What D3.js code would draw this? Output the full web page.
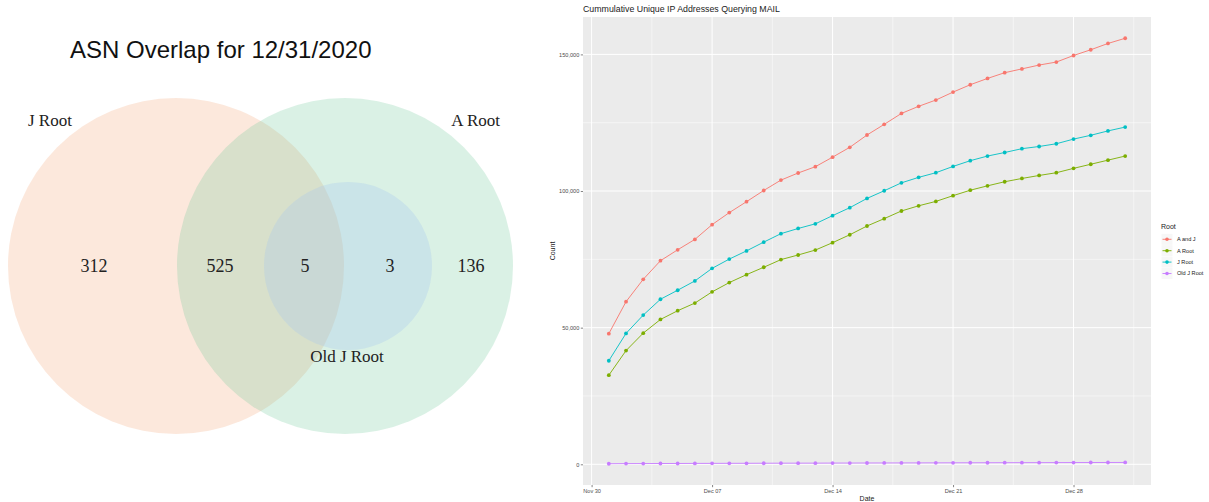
<!DOCTYPE html>
<html>
<head>
<meta charset="utf-8">
<script src="https://cdn.jsdelivr.net/npm/d3@7"></script>
<style>
  html, body { margin: 0; padding: 0; background: #ffffff; }
  svg { display: block; }
</style>
</head>
<body>
<svg id="chart" width="1209" height="502"></svg>
<script>
// ---- ASN overlap (Venn) ----
const vennTitle = "ASN Overlap for 12/31/2020";
const vennSetNames = ["J Root", "A Root", "Old J Root"];
const vennRegionNames = ["J only", "J and A", "J, A and Old J", "A and Old J", "A only"];
const vennCounts = [312, 525, 5, 3, 136];

// ---- Cumulative unique IP addresses querying MAIL ----
const dates = [
  "2020-12-01", "2020-12-02", "2020-12-03", "2020-12-04", "2020-12-05", "2020-12-06", "2020-12-07",
  "2020-12-08", "2020-12-09", "2020-12-10", "2020-12-11", "2020-12-12", "2020-12-13", "2020-12-14",
  "2020-12-15", "2020-12-16", "2020-12-17", "2020-12-18", "2020-12-19", "2020-12-20", "2020-12-21",
  "2020-12-22", "2020-12-23", "2020-12-24", "2020-12-25", "2020-12-26", "2020-12-27", "2020-12-28",
  "2020-12-29", "2020-12-30", "2020-12-31"
];
const rootNames = ["A and J", "A Root", "J Root", "Old J Root"];
const aAndJ = [47800, 59500, 67700, 74500, 78500, 82300, 87700, 92100, 96100, 100200, 104000,
  106600, 108900, 112400, 116000, 120500, 124400, 128400, 131000, 133300, 136200, 138900,
  141200, 143300, 144700, 146100, 147200, 149600, 151700, 154000, 155900];
const aRoot = [32600, 41600, 48000, 53000, 56200, 59000, 63100, 66500, 69400, 72100, 74900,
  76600, 78400, 81100, 84000, 87200, 89900, 92700, 94600, 96200, 98300, 100300,
  101900, 103400, 104600, 105700, 106700, 108300, 109800, 111300, 112800];
const jRoot = [37900, 47900, 54600, 60400, 63700, 67100, 71700, 75100, 78100, 81300, 84400,
  86300, 88000, 91000, 93900, 97300, 100100, 103000, 105000, 106700, 109000, 111100,
  112800, 114100, 115500, 116300, 117300, 119000, 120400, 122000, 123400];
const oldJRoot = [210, 250, 270, 290, 300, 330, 340, 360, 370, 390, 410, 420, 430, 450, 460,
  480, 490, 510, 520, 530, 550, 560, 570, 590, 600, 610, 620, 640, 650, 660, 680];
const rootColors = ["#F8766D", "#7CAE00", "#00BFC4", "#C77CFF"];
const yTickValues = [0, 50000, 100000, 150000];
const xTickDates = ["2020-11-30", "2020-12-07", "2020-12-14", "2020-12-21", "2020-12-28"];
const xTickLabels = ["Nov 30", "Dec 07", "Dec 14", "Dec 21", "Dec 28"];

const svg = d3.select("#chart");
svg.append("rect").attr("width", 1209).attr("height", 502).attr("fill", "#ffffff");

// ================= Venn diagram =================
const venn = svg.append("g").attr("class", "venn");
const serif = "'Liberation Serif', 'Times New Roman', serif";

// set circles: J Root, A Root, Old J Root (nested in A Root)
const vennCircles = [
  { name: vennSetNames[0], cx: 176, cy: 266, r: 168, fill: "#F3A373", op: 0.25 },
  { name: vennSetNames[1], cx: 345, cy: 266, r: 168, fill: "#6BC797", op: 0.25 },
  { name: vennSetNames[2], cx: 348, cy: 266, r: 84, fill: "#A4C6F0", op: 0.3 }
];
venn.selectAll("circle.set").data(vennCircles).join("circle")
  .attr("class", "set")
  .attr("cx", d => d.cx).attr("cy", d => d.cy).attr("r", d => d.r)
  .attr("fill", d => d.fill).attr("fill-opacity", d => d.op);

venn.append("text")
  .attr("x", 70).attr("y", 58)
  .attr("font-family", "'Liberation Sans', Arial, sans-serif")
  .attr("font-size", 24).attr("fill", "#111")
  .text(vennTitle);

const setLabelPos = [
  { x: 28, y: 126, anchor: "start" },
  { x: 500, y: 126, anchor: "end" },
  { x: 347, y: 362, anchor: "middle" }
];
venn.selectAll("text.setlabel").data(vennSetNames).join("text")
  .attr("class", "setlabel")
  .attr("x", (d, i) => setLabelPos[i].x).attr("y", (d, i) => setLabelPos[i].y)
  .attr("text-anchor", (d, i) => setLabelPos[i].anchor)
  .attr("font-family", serif).attr("font-size", 17).attr("fill", "#222")
  .text(d => d);

// label anchor for each Venn region
const regionCenterX = { "J only": 94, "J and A": 220, "J, A and Old J": 305, "A and Old J": 390, "A only": 471 };
venn.selectAll("text.count").data(vennCounts).join("text")
  .attr("class", "count")
  .attr("x", (d, i) => regionCenterX[vennRegionNames[i]]).attr("y", 272)
  .attr("text-anchor", "middle")
  .attr("font-family", serif).attr("font-size", 18).attr("fill", "#222")
  .text(d => d);

// ================= Line chart =================
const sans = "'Liberation Sans', Arial, Helvetica, sans-serif";
const parse = d3.timeParse("%Y-%m-%d");
const days = dates.map(parse);
const seriesValues = [aAndJ, aRoot, jRoot, oldJRoot];
const series = rootNames.map((name, k) => ({
  name, color: rootColors[k],
  points: days.map((d, i) => ({ date: d, value: seriesValues[k][i] }))
}));

const panel = { left: 583, right: 1151, top: 17, bottom: 485 };

// ggplot-style 5% expansion on both axes
const xExt = d3.extent(days);
const xPad = (xExt[1] - xExt[0]) * 0.05;
const x = d3.scaleTime()
  .domain([new Date(+xExt[0] - xPad), new Date(+xExt[1] + xPad)])
  .range([panel.left, panel.right]);
const allVals = seriesValues.flat();
const yMin = d3.min(allVals), yMax = d3.max(allVals);
const yPad = (yMax - yMin) * 0.05;
const y = d3.scaleLinear().domain([yMin - yPad, yMax + yPad]).range([panel.bottom, panel.top]);

const plot = svg.append("g").attr("class", "plot");
plot.append("rect")
  .attr("x", panel.left).attr("y", panel.top)
  .attr("width", panel.right - panel.left).attr("height", panel.bottom - panel.top)
  .attr("fill", "#EBEBEB");

// grid
const xMajor = xTickDates.map(parse);
const xMinor = xMajor.map(d => d3.timeHour.offset(d, 84)).filter(d => d >= x.domain()[0] && d <= x.domain()[1]);
const yMinor = [25000, 75000, 125000];
const grid = plot.append("g");
grid.selectAll("line.ymin").data(yMinor).join("line")
  .attr("x1", panel.left).attr("x2", panel.right)
  .attr("y1", d => y(d)).attr("y2", d => y(d))
  .attr("stroke", "#fff").attr("stroke-width", 0.5);
grid.selectAll("line.xmin").data(xMinor).join("line")
  .attr("y1", panel.top).attr("y2", panel.bottom)
  .attr("x1", d => x(d)).attr("x2", d => x(d))
  .attr("stroke", "#fff").attr("stroke-width", 0.5);
grid.selectAll("line.ymaj").data(yTickValues).join("line")
  .attr("x1", panel.left).attr("x2", panel.right)
  .attr("y1", d => y(d)).attr("y2", d => y(d))
  .attr("stroke", "#fff").attr("stroke-width", 1);
grid.selectAll("line.xmaj").data(xMajor).join("line")
  .attr("y1", panel.top).attr("y2", panel.bottom)
  .attr("x1", d => x(d)).attr("x2", d => x(d))
  .attr("stroke", "#fff").attr("stroke-width", 1);

// lines and points
const line = d3.line().x(d => x(d.date)).y(d => y(d.value));
const sg = plot.selectAll("g.series").data(series).join("g").attr("class", "series");
sg.append("path")
  .attr("d", d => line(d.points))
  .attr("fill", "none").attr("stroke", d => d.color).attr("stroke-width", 0.9);
sg.selectAll("circle").data(d => d.points.map(p => ({ ...p, color: d.color }))).join("circle")
  .attr("cx", d => x(d.date)).attr("cy", d => y(d.value)).attr("r", 1.9)
  .attr("fill", d => d.color);

// axes
const fmt = d3.format(",");
const yAxis = d3.axisLeft(y).tickValues(yTickValues).tickFormat(fmt).tickSize(2.2).tickPadding(1.5);
const yg = svg.append("g").attr("transform", `translate(${panel.left},0)`).call(yAxis);
const xAxis = d3.axisBottom(x).tickValues(xMajor).tickFormat((d, i) => xTickLabels[i]).tickSize(2.2).tickPadding(1.5);
const xg = svg.append("g").attr("transform", `translate(0,${panel.bottom})`).call(xAxis);
[yg, xg].forEach(g => {
  g.select(".domain").remove();
  g.selectAll(".tick line").attr("stroke", "#333333").attr("stroke-width", 0.6);
  g.selectAll(".tick text").attr("fill", "#4D4D4D").attr("font-family", sans).attr("font-size", 5.6);
});

svg.append("text")
  .attr("x", (panel.left + panel.right) / 2).attr("y", 501)
  .attr("text-anchor", "middle").attr("font-family", sans).attr("font-size", 7).attr("fill", "#222")
  .text("Date");
svg.append("text")
  .attr("transform", `translate(555,${(panel.top + panel.bottom) / 2}) rotate(-90)`)
  .attr("text-anchor", "middle").attr("font-family", sans).attr("font-size", 7).attr("fill", "#222")
  .text("Count");
svg.append("text")
  .attr("x", panel.left).attr("y", 12)
  .attr("font-family", sans).attr("font-size", 8.8).attr("fill", "#222")
  .text("Cummulative Unique IP Addresses Querying MAIL");

// legend
const legend = svg.append("g").attr("transform", "translate(1161,0)");
legend.append("text").attr("x", 0).attr("y", 228.5)
  .attr("font-family", sans).attr("font-size", 7).attr("fill", "#222").text("Root");
const legendY = d3.scalePoint().domain(rootNames).range([239.3, 273.5]);
const li = legend.selectAll("g.item").data(series).join("g").attr("class", "item")
  .attr("transform", d => `translate(0,${legendY(d.name)})`);
li.append("rect").attr("x", 0.5).attr("y", -5.5).attr("width", 11).attr("height", 11).attr("fill", "#F7F7F7");
li.append("line").attr("x1", 1.5).attr("x2", 10.5).attr("stroke", d => d.color).attr("stroke-width", 0.9);
li.append("circle").attr("cx", 6).attr("cy", 0).attr("r", 1.8).attr("fill", d => d.color);
li.append("text").attr("x", 16).attr("y", 0).attr("dy", "0.35em")
  .attr("font-family", sans).attr("font-size", 5.6).attr("fill", "#222").text(d => d.name);
</script>
</body>
</html>
